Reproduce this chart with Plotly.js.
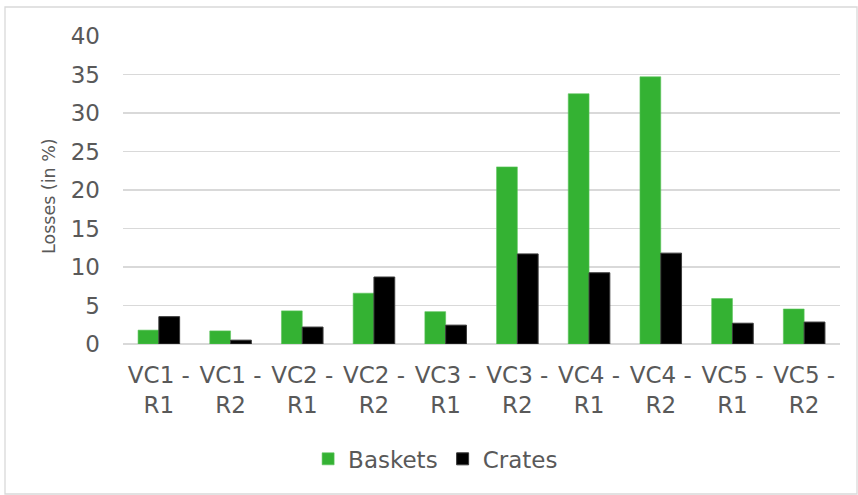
<!DOCTYPE html>
<html>
<head>
<meta charset="utf-8">
<script src="https://cdn.plot.ly/plotly-3.0.1.min.js"></script>
<style>
  html, body { margin: 0; padding: 0; background: #ffffff; }
  #chart { width: 858px; height: 495px; }
</style>
</head>
<body>
<div id="chart"></div>
<script>
const categories = ["VC1 -<br>R1", "VC1 -<br>R2", "VC2 -<br>R1", "VC2 -<br>R2", "VC3 -<br>R1",
                    "VC3 -<br>R2", "VC4 -<br>R1", "VC4 -<br>R2", "VC5 -<br>R1", "VC5 -<br>R2"];
const baskets = [1.8, 1.7, 4.3, 6.6, 4.2, 23.0, 32.5, 34.7, 5.9, 4.55];
const crates  = [3.55, 0.5, 2.2, 8.7, 2.45, 11.7, 9.25, 11.8, 2.7, 2.85];
const yTicks = [0, 5, 10, 15, 20, 25, 30, 35, 40];
const yTitle = "Losses (in %)";

const textColor = "#595959";
const fontFamily = "DejaVu Sans, Verdana, sans-serif";

const traces = [
  {
    type: "bar", name: "Baskets", x: categories, y: baskets,
    marker: { color: "#34b233", line: { color: "#5cc45c", width: 0.6 } },
    hoverinfo: "skip"
  },
  {
    type: "bar", name: "Crates", x: categories, y: crates,
    marker: { color: "#000000", line: { color: "#3a3a3a", width: 1 } },
    hoverinfo: "skip"
  }
];

const layout = {
  width: 858, height: 495,
  margin: { l: 123, r: 18, t: 36, b: 151 },
  paper_bgcolor: "#ffffff", plot_bgcolor: "#ffffff",
  font: { family: fontFamily, color: textColor, size: 23 },
  barmode: "group", bargap: 0.42, bargroupgap: 0,
  showlegend: true,
  legend: {
    orientation: "h", x: 0.436, xanchor: "center", y: -0.373, yanchor: "middle",
    font: { family: fontFamily, size: 23, color: textColor },
    itemwidth: 30, traceorder: "normal"
  },
  xaxis: {
    type: "category", tickvals: categories, ticktext: categories,
    showgrid: false, zeroline: false, showline: false,
    ticks: "outside", ticklen: 10, tickcolor: "rgba(0,0,0,0)",
    tickfont: { family: fontFamily, size: 23, color: textColor }
  },
  yaxis: {
    range: [0, 40], tickvals: yTicks, ticktext: yTicks.map(String),
    showgrid: true, gridcolor: "#d9d9d9", gridwidth: 1.5,
    zeroline: true, zerolinecolor: "#d9d9d9", zerolinewidth: 1.5,
    showline: false, ticks: "", ticklabelstandoff: 22,
    tickfont: { family: fontFamily, size: 23, color: textColor }
  },
  annotations: [
    { text: yTitle, xref: "paper", yref: "paper",
      x: (49 - 123) / 717, y: (344 - 196) / 308, xanchor: "center", yanchor: "middle",
      textangle: -90, showarrow: false,
      font: { family: fontFamily, size: 17.5, color: textColor } }
  ],
  shapes: [
    { type: "rect", xref: "paper", yref: "paper",
      x0: (5 - 123) / 717, x1: (857 - 123) / 717,
      y0: (344 - 494) / 308, y1: (344 - 7) / 308,
      line: { color: "#d9d9d9", width: 1.3 }, fillcolor: "rgba(0,0,0,0)", layer: "below" }
  ]
};

Plotly.newPlot("chart", traces, layout, { displayModeBar: false, staticPlot: true });
</script>
</body>
</html>
